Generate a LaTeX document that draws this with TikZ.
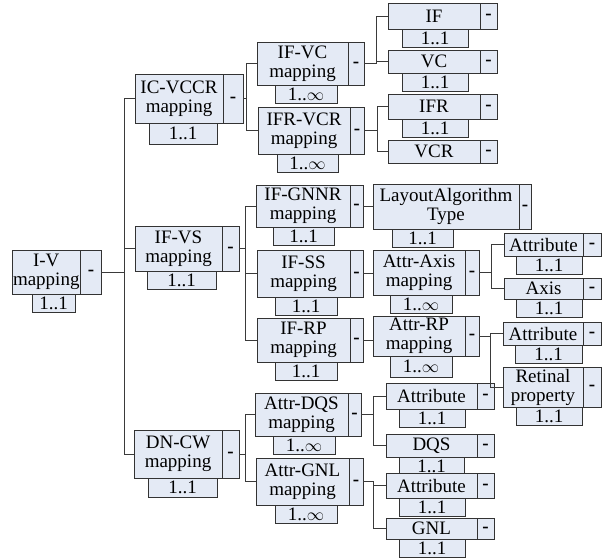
\documentclass[tikz,border=0pt]{standalone}
\usepackage{fontspec}
\setmainfont{Liberation Serif}
\usetikzlibrary{positioning}
\definecolor{boxFill}{HTML}{E4EAF5}
\definecolor{boxLine}{HTML}{333333}
\definecolor{linkLine}{HTML}{3A3A3A}

\begin{document}
\begin{tikzpicture}[x=1pt, y=-1pt, font=\fontsize{19}{19}\selectfont,
        elem/.style={draw=boxLine, fill=boxFill, line width=0.9pt, anchor=north west, align=center, inner sep=1pt, outer sep=0pt},
        minus/.style={draw=boxLine, fill=boxFill, line width=0.9pt, inner sep=0pt, outer sep=0pt, minimum width=17, text height=7.4pt, text depth=0pt, font=\fontsize{19}{19}\selectfont\bfseries},
        card/.style={draw=boxLine, fill=boxFill, line width=0.9pt, inner sep=0pt, outer sep=0pt, minimum width=66, minimum height=18},
        link/.style={draw=linkLine, line width=0.9pt}]
        \useasboundingbox (0,0) rectangle (605,557);
        % root
        \node[elem, minimum width=67, minimum height=44] (iv) at (12,250) {I-V\\mapping};
        \node[minus, minimum width=21, minimum height=44, right=0pt of iv] (iv-m) {-};
        \node[card, minimum width=43, below right=0pt and 20pt of iv.south west] (iv-c) {1..1};
        % level 1
        \node[elem, minimum width=88, minimum height=49] (icvccr) at (135,74) {IC-VCCR\\mapping};
        \node[minus, minimum width=20, minimum height=49, right=0pt of icvccr] (icvccr-m) {-};
        \node[card, minimum width=68, minimum height=21, below right=0pt and 14pt of icvccr.south west] (icvccr-c) {1..1};
        \node[elem, minimum width=87, minimum height=45] (ifvs) at (135,226) {IF-VS\\mapping};
        \node[minus, minimum height=45, right=0pt of ifvs] (ifvs-m) {-};
        \node[card, minimum width=69, below right=0pt and 12pt of ifvs.south west] (ifvs-c) {1..1};
        \node[elem, minimum width=88, minimum height=48] (dncw) at (134,430) {DN-CW\\mapping};
        \node[minus, minimum height=48, right=0pt of dncw] (dncw-m) {-};
        \node[card, minimum width=69, minimum height=19, below right=0pt and 14pt of dncw.south west] (dncw-c) {1..1};
        % level 2
        \node[elem, minimum width=91, minimum height=43] (ifvc) at (257,42) {IF-VC\\mapping};
        \node[minus, minimum width=16, minimum height=43, right=0pt of ifvc] (ifvc-m) {-};
        \node[card, minimum width=62, below right=0pt and 18pt of ifvc.south west] (ifvc-c) {1..$\infty$};
        \node[elem, minimum width=92, minimum height=47] (ifrvcr) at (258,107) {IFR-VCR\\mapping};
        \node[minus, minimum width=14, minimum height=47, right=0pt of ifrvcr] (ifrvcr-m) {-};
        \node[card, minimum width=61, below right=0pt and 19pt of ifrvcr.south west] (ifrvcr-c) {1..$\infty$};
        \node[elem, minimum width=94, minimum height=42] (ifgnnr) at (256,185) {IF-GNNR\\mapping};
        \node[minus, minimum width=13, minimum height=42, right=0pt of ifgnnr] (ifgnnr-m) {-};
        \node[card, minimum width=61, below right=0pt and 17pt of ifgnnr.south west] (ifgnnr-c) {1..1};
        \node[elem, minimum width=93, minimum height=47] (ifss) at (257,250) {IF-SS\\mapping};
        \node[minus, minimum width=13, minimum height=47, right=0pt of ifss] (ifss-m) {-};
        \node[card, minimum width=62, below right=0pt and 18pt of ifss.south west] (ifss-c) {1..1};
        \node[elem, minimum width=93, minimum height=44] (ifrp) at (257,318) {IF-RP\\mapping};
        \node[minus, minimum width=13, minimum height=44, right=0pt of ifrp] (ifrp-m) {-};
        \node[card, minimum width=62, below right=0pt and 18pt of ifrp.south west] (ifrp-c) {1..1};
        \node[elem, minimum width=93, minimum height=43] (attrdqs) at (255,393) {Attr-DQS\\mapping};
        \node[minus, minimum width=13, minimum height=43, right=0pt of attrdqs] (attrdqs-m) {-};
        \node[card, minimum width=62, below right=0pt and 18pt of attrdqs.south west] (attrdqs-c) {1..$\infty$};
        \node[elem, minimum width=93, minimum height=47] (attrgnl) at (256,458) {Attr-GNL\\mapping};
        \node[minus, minimum width=14, minimum height=47, right=0pt of attrgnl] (attrgnl-m) {-};
        \node[card, minimum width=62, below right=0pt and 19pt of attrgnl.south west] (attrgnl-c) {1..$\infty$};
        % level 3
        \node[elem, minimum width=92, minimum height=26] (if) at (388,3) {IF};
        \node[minus, minimum height=26, right=0pt of if] (if-m) {-};
        \node[card, below right=0pt and 14pt of if.south west] (if-c) {1..1};
        \node[elem, minimum width=92, minimum height=23] (vc) at (388,50) {VC};
        \node[minus, minimum height=23, right=0pt of vc] (vc-m) {-};
        \node[card, below right=0pt and 14pt of vc.south west] (vc-c) {1..1};
        \node[elem, minimum width=92, minimum height=25] (ifr) at (388,94) {IFR};
        \node[minus, minimum height=25, right=0pt of ifr] (ifr-m) {-};
        \node[card, below right=0pt and 14pt of ifr.south west] (ifr-c) {1..1};
        \node[elem, minimum width=92, minimum height=23] (vcr) at (388,140) {VCR};
        \node[minus, minimum height=23, right=0pt of vcr] (vcr-m) {-};
        \node[elem, minimum width=146, minimum height=45] (la) at (373,184) {LayoutAlgorithm\\Type};
        \node[minus, minimum width=12, minimum height=45, right=0pt of la] (la-m) {-};
        \node[card, minimum width=61, below right=0pt and 19pt of la.south west] (la-c) {1..1};
        \node[elem, minimum width=92, minimum height=45] (attraxis) at (373,250) {Attr-Axis\\mapping};
        \node[minus, minimum width=14, minimum height=45, right=0pt of attraxis] (attraxis-m) {-};
        \node[card, minimum width=62, below right=0pt and 17pt of attraxis.south west] (attraxis-c) {1..$\infty$};
        \node[elem, minimum width=92, minimum height=40] (attrrp) at (373,316) {Attr-RP\\mapping};
        \node[minus, minimum width=14, minimum height=40, right=0pt of attrrp] (attrrp-m) {-};
        \node[card, minimum width=62, minimum height=21, below right=0pt and 17pt of attrrp.south west] (attrrp-c) {1..$\infty$};
        \node[elem, minimum width=91, minimum height=26] (attrc) at (386,383) {Attribute};
        \node[minus, minimum height=26, right=0pt of attrc] (attrc-m) {-};
        \node[card, below right=0pt and 13pt of attrc.south west] (attrc-c) {1..1};
        \node[elem, minimum width=91, minimum height=23] (dqs) at (386,434) {DQS};
        \node[minus, minimum height=23, right=0pt of dqs] (dqs-m) {-};
        \node[card, minimum width=65, below right=0pt and 13pt of dqs.south west] (dqs-c) {1..1};
        \node[elem, minimum width=91, minimum height=25] (attrd) at (386,473) {Attribute};
        \node[minus, minimum height=25, right=0pt of attrd] (attrd-m) {-};
        \node[card, below right=0pt and 13pt of attrd.south west] (attrd-c) {1..1};
        \node[elem, minimum width=91, minimum height=21] (gnl) at (386,518) {GNL};
        \node[minus, minimum height=21, right=0pt of gnl] (gnl-m) {-};
        \node[card, below right=0pt and 13pt of gnl.south west] (gnl-c) {1..1};
        % level 4
        \node[elem, minimum width=79, minimum height=23] (attra) at (504,233) {Attribute};
        \node[minus, minimum width=18, minimum height=23, right=0pt of attra] (attra-m) {-};
        \node[card, below right=0pt and 12pt of attra.south west] (attra-c) {1..1};
        \node[elem, minimum width=79, minimum height=21] (axis) at (504,278) {Axis};
        \node[minus, minimum width=18, minimum height=21, right=0pt of axis] (axis-m) {-};
        \node[card, below right=0pt and 12pt of axis.south west] (axis-c) {1..1};
        \node[elem, minimum width=80, minimum height=23] (attrb) at (503,322) {Attribute};
        \node[minus, minimum width=18, minimum height=23, right=0pt of attrb] (attrb-m) {-};
        \node[card, minimum width=67, below right=0pt and 12pt of attrb.south west] (attrb-c) {1..1};
        \node[elem, minimum width=80, minimum height=40] (retinal) at (503,367) {Retinal\\property};
        \node[minus, minimum width=18, minimum height=40, right=0pt of retinal] (retinal-m) {-};
        \node[card, below right=0pt and 13pt of retinal.south west] (retinal-c) {1..1};
        % tree lines
        \foreach \c in {icvccr,ifvs,dncw} \draw[link] (iv-m.east) -- ++(23,0) |- (\c.west);
        \foreach \c in {ifvc,ifrvcr} \draw[link] (icvccr-m.east) -- ++(3,0) |- (\c.west);
        \foreach \c in {if,vc} \draw[link] (ifvc-m.east) -- ++(12,0) |- (\c.west);
        \foreach \c in {ifr,vcr} \draw[link] (ifrvcr-m.east) -- ++(13,0) |- (\c.west);
        \foreach \c in {ifgnnr,ifss,ifrp} \draw[link] (ifvs-m.east) -- ++(6,0) |- (\c.west);
        \draw[link] (ifgnnr-m.east) -- (ifgnnr-m.east -| la.west);
        \draw[link] (ifss-m.east) -- (ifss-m.east -| attraxis.west);
        \draw[link] (ifrp-m.east) -- (ifrp-m.east -| attrrp.west);
        \foreach \c in {attra,axis} \draw[link] (attraxis-m.east) -- ++(12,0) |- (\c.west);
        \foreach \c in {attrb,retinal} \draw[link] (attrrp-m.east) -- ++(11,0) |- (\c.west);
        \foreach \c in {attrdqs,attrgnl} \draw[link] (dncw-m.east) -- ++(6,0) |- (\c.west);
        \foreach \c in {attrc,dqs} \draw[link] (attrdqs-m.east) -- ++(12,0) |- (\c.west);
        \foreach \c in {attrd,gnl} \draw[link] (attrgnl-m.east) -- ++(10,0) |- (\c.west);
      \end{tikzpicture}
\end{document}
